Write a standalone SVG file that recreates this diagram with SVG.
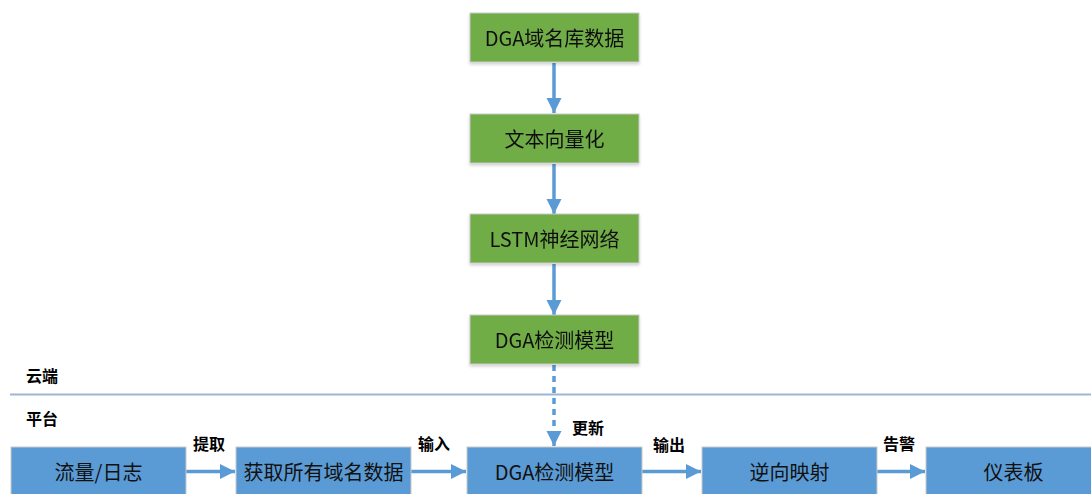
<svg xmlns="http://www.w3.org/2000/svg" width="1091" height="494" viewBox="0 0 1091 494">
<defs>
<style>
.g{fill:#70AD47;stroke:#C9C9C9;stroke-width:1}
.b{fill:#5B9BD5;stroke:#C9C9C9;stroke-width:1}
.t{font-family:"Noto Sans CJK SC","Noto Sans",sans-serif;font-size:20px;fill:#111;text-anchor:middle;dominant-baseline:central}
.l{font-family:"Noto Sans CJK SC",sans-serif;font-size:16px;font-weight:bold;fill:#000;dominant-baseline:central}
.c{stroke:#5B9BD5;stroke-width:3.5;fill:none}
</style>
<marker id="ah" viewBox="0 0 10 10" refX="10" refY="5" markerWidth="4.3" markerHeight="4.3" markerUnits="strokeWidth" orient="auto">
<path d="M0,0 L10,5 L0,10 z" fill="#5B9BD5"/>
</marker>
<filter id="sh" x="-10%" y="-10%" width="120%" height="130%">
<feDropShadow dx="0" dy="2" stdDeviation="1.5" flood-color="#000" flood-opacity="0.18"/>
</filter>
</defs>
<rect width="1091" height="494" fill="#fff"/>
<line x1="10" y1="394.5" x2="1091" y2="394.5" stroke="#9FB6D2" stroke-width="2"/>
<text class="l" x="26" y="375">云端</text>
<text class="l" x="26" y="418">平台</text>
<g id="connectors">
<line class="c" x1="554" y1="63" x2="554" y2="113" marker-end="url(#ah)"/>
<line class="c" x1="554" y1="164" x2="554" y2="214" marker-end="url(#ah)"/>
<line class="c" x1="554" y1="264" x2="554" y2="315" marker-end="url(#ah)"/>
<line class="c" x1="554" y1="365" x2="554" y2="446" stroke-dasharray="6,5" marker-end="url(#ah)"/>
<line class="c" x1="186" y1="471.5" x2="235" y2="471.5" marker-end="url(#ah)"/>
<line class="c" x1="411" y1="471.5" x2="466" y2="471.5" marker-end="url(#ah)"/>
<line class="c" x1="642" y1="471.5" x2="701" y2="471.5" marker-end="url(#ah)"/>
<line class="c" x1="877" y1="471.5" x2="925" y2="471.5" marker-end="url(#ah)"/>
<text class="l" x="572" y="427">更新</text>
<text class="l" x="193" y="443">提取</text>
<text class="l" x="418" y="443">输入</text>
<text class="l" x="653" y="444">输出</text>
<text class="l" x="883" y="443">告警</text>
</g>
<g id="n1" filter="url(#sh)"><rect class="g" x="470" y="13" width="169" height="49"/><text class="t" x="554.5" y="37.5">DGA域名库数据</text></g>
<g id="n2" filter="url(#sh)"><rect class="g" x="470" y="114" width="169" height="49"/><text class="t" x="554.5" y="138.5">文本向量化</text></g>
<g id="n3" filter="url(#sh)"><rect class="g" x="470" y="214" width="169" height="49"/><text class="t" x="554.5" y="238.5">LSTM神经网络</text></g>
<g id="n4" filter="url(#sh)"><rect class="g" x="470" y="315" width="169" height="49"/><text class="t" x="554.5" y="339.5">DGA检测模型</text></g>
<g id="b1"><rect class="b" x="11" y="447" width="175" height="50"/><text class="t" x="98.5" y="471">流量/日志</text></g>
<g id="b2"><rect class="b" x="236" y="447" width="175" height="50"/><text class="t" x="323.5" y="471">获取所有域名数据</text></g>
<g id="b3"><rect class="b" x="467" y="447" width="175" height="50"/><text class="t" x="554.5" y="471">DGA检测模型</text></g>
<g id="b4"><rect class="b" x="702" y="447" width="175" height="50"/><text class="t" x="789.5" y="471">逆向映射</text></g>
<g id="b5"><rect class="b" x="926" y="447" width="175" height="50"/><text class="t" x="1013.5" y="471">仪表板</text></g>
</svg>
